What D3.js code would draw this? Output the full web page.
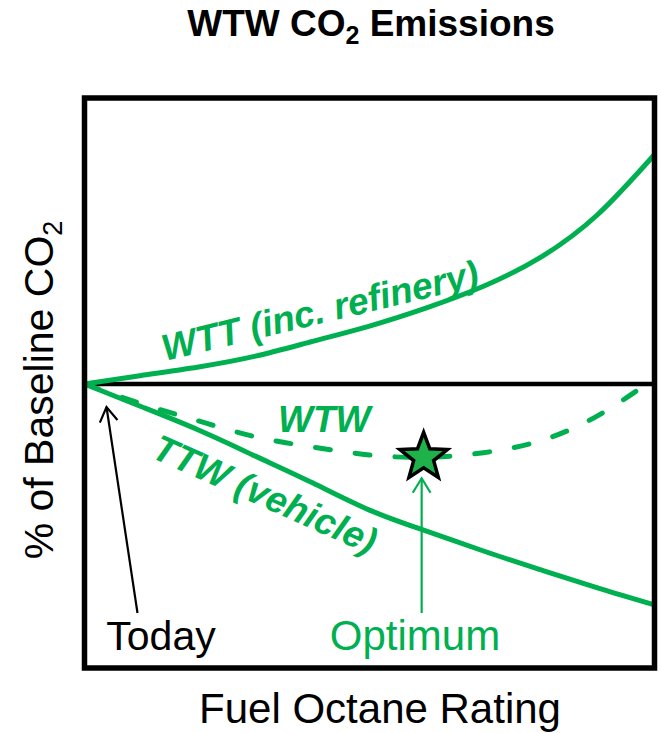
<!DOCTYPE html>
<html>
<head>
<meta charset="utf-8">
<script src="https://cdn.jsdelivr.net/npm/d3@7"></script>
<style>
  body { margin: 0; background: #fff; }
  svg { display: block; font-family: "Liberation Sans", Arial, sans-serif; }
</style>
</head>
<body>
<svg width="661" height="733"></svg>
<script>
// octane steps (arbitrary units, left edge = today's fuel)
const octane = [0, 1, 2, 3, 4, 5, 6, 7, 8, 9, 10];
// change vs baseline CO2 (arbitrary units, 0 = today)
const wtt = [0, 1.5, 3.0, 4.9, 7.5, 10.2, 13.4, 17.2, 22.3, 29.8, 40.4];
const ttw = [0, -4.0, -8.1, -12.7, -17.4, -22.2, -25.9, -29.4, -32.7, -35.9, -38.9];
const wtw = [0, -3.5, -6.5, -9.3, -11.1, -12.5, -12.9, -12.1, -10.0, -5.6, 1.0];
const optimum = { x: 5.95, y: -12.9 };

const green = '#00b050';

const svg = d3.select('svg');

const x = d3.scaleLinear().domain([0, 10]).range([84.5, 654.5]);
const y = d3.scaleLinear().domain([-50, 50]).range([668, 100]);

// baseline (today)
svg.append('line')
  .attr('x1', x(0)).attr('x2', x(10))
  .attr('y1', y(0)).attr('y2', y(0))
  .attr('stroke', '#000').attr('stroke-width', 4.5);

const line = (vals) => d3.line()
  .x((d, i) => x(octane[i]))
  .y((d) => y(d))
  .curve(d3.curveNatural)(vals);

svg.append('path')
  .attr('d', line(wtt))
  .attr('fill', 'none').attr('stroke', green).attr('stroke-width', 5);

svg.append('path')
  .attr('d', line(ttw))
  .attr('fill', 'none').attr('stroke', green).attr('stroke-width', 5);

svg.append('path')
  .attr('d', line(wtw))
  .attr('fill', 'none').attr('stroke', green).attr('stroke-width', 5)
  .attr('stroke-dasharray', '15,25').attr('stroke-linecap', 'round');

// frame
svg.append('rect')
  .attr('x', x(0)).attr('y', y(50) - 2)
  .attr('width', x(10) - x(0)).attr('height', y(-50) - y(50) + 2)
  .attr('fill', 'none').attr('stroke', '#000').attr('stroke-width', 5.5);

// curve labels
const curveLabel = (txt, px, py, angle) => {
  svg.append('text')
    .attr('transform', 'translate(' + px + ',' + py + ') rotate(' + angle + ')')
    .attr('font-size', 37).attr('font-weight', 'bold').attr('font-style', 'italic')
    .attr('fill', green)
    .text(txt);
};
curveLabel('WTT (inc. refinery)', 165, 361, -13.5);
curveLabel('TTW (vehicle)', 150, 457, 24);
curveLabel('WTW', 278, 432, 0);

// arrows
const arrow = (x1, y1, x2, y2, color) => {
  const a = Math.atan2(y2 - y1, x2 - x1);
  const len = 17, spread = 0.55;
  svg.append('line')
    .attr('x1', x1).attr('y1', y1).attr('x2', x2).attr('y2', y2)
    .attr('stroke', color).attr('stroke-width', 2.2);
  svg.append('path')
    .attr('d', 'M' + (x2 - len * Math.cos(a - spread)) + ',' + (y2 - len * Math.sin(a - spread)) +
      'L' + x2 + ',' + y2 +
      'L' + (x2 - len * Math.cos(a + spread)) + ',' + (y2 - len * Math.sin(a + spread)))
    .attr('fill', 'none').attr('stroke', color).attr('stroke-width', 2.2);
};
arrow(x(0) + 53, 613, x(0) + 22, y(0) + 23, '#000');
arrow(x(optimum.x) - 2, 613, x(optimum.x) - 2, y(optimum.y) + 21, green);

// optimum star
const starPts = d3.range(10).map((i) => {
  const r = i % 2 === 0 ? 25 : 10.5;
  const ang = -Math.PI / 2 + i * Math.PI / 5;
  return [x(optimum.x) + r * Math.cos(ang), y(optimum.y) + r * Math.sin(ang)];
});
svg.append('polygon')
  .attr('points', starPts.map((p) => p.join(',')).join(' '))
  .attr('fill', '#1fb24b').attr('stroke', '#000').attr('stroke-width', 3.5)
  .attr('stroke-linejoin', 'miter');

// annotation texts
svg.append('text')
  .attr('x', 161).attr('y', 650)
  .attr('text-anchor', 'middle').attr('font-size', 41)
  .text('Today');

svg.append('text')
  .attr('x', 415).attr('y', 650)
  .attr('text-anchor', 'middle').attr('font-size', 42).attr('fill', green)
  .text('Optimum');

svg.append('text')
  .attr('x', 380).attr('y', 723)
  .attr('text-anchor', 'middle').attr('font-size', 42)
  .text('Fuel Octane Rating');

// title
const title = svg.append('text')
  .attr('x', 371).attr('y', 36)
  .attr('text-anchor', 'middle').attr('font-size', 37).attr('font-weight', 'bold');
title.append('tspan').text('WTW CO');
title.append('tspan').attr('font-size', 25).attr('dy', 8).text('2');
title.append('tspan').attr('dy', -8).text(' Emissions');

// y axis label
const yLab = svg.append('text')
  .attr('transform', 'translate(53,390) rotate(-90)')
  .attr('text-anchor', 'middle').attr('font-size', 41);
yLab.append('tspan').text('% of Baseline CO');
yLab.append('tspan').attr('font-size', 27).attr('dy', 9).text('2');
</script>
</body>
</html>
